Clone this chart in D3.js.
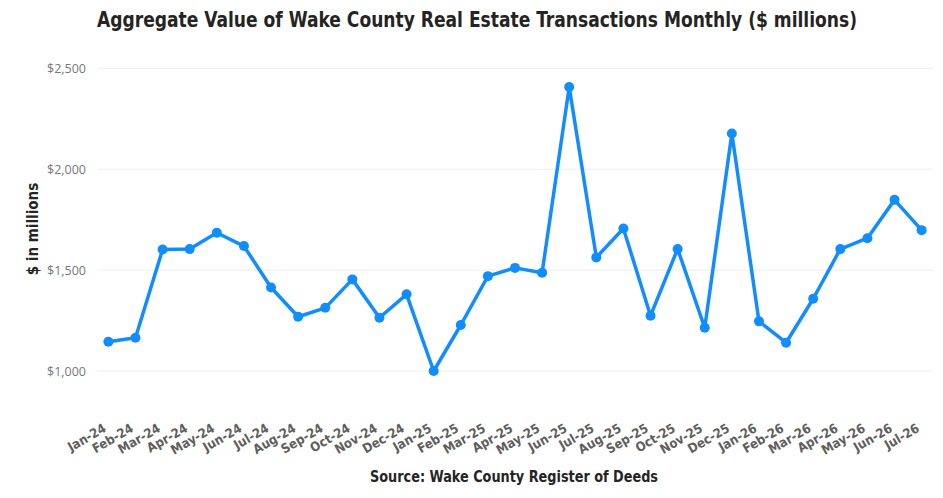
<!DOCTYPE html>
<html>
<head>
<meta charset="utf-8">
<script src="https://cdn.jsdelivr.net/npm/d3@7"></script>
<style>
  body { margin: 0; background: #fff; }
  svg text { font-family: "DejaVu Sans Condensed", "DejaVu Sans", sans-serif; }
</style>
</head>
<body>
<div id="chart"></div>
<script>
const width = 943;
const height = 498;

const months = ["Jan-24", "Feb-24", "Mar-24", "Apr-24", "May-24", "Jun-24", "Jul-24", "Aug-24",
    "Sep-24", "Oct-24", "Nov-24", "Dec-24", "Jan-25", "Feb-25", "Mar-25", "Apr-25", "May-25",
    "Jun-25", "Jul-25", "Aug-25", "Sep-25", "Oct-25", "Nov-25", "Dec-25", "Jan-26", "Feb-26",
    "Mar-26", "Apr-26", "May-26", "Jun-26", "Jul-26"];
const values = [1145, 1165, 1602, 1604, 1685, 1619, 1414, 1269,
    1313, 1454, 1264, 1380, 1000, 1228, 1470, 1511, 1487,
    2407, 1563, 1706, 1274, 1605, 1214, 2177, 1246, 1140,
    1358, 1604, 1658, 1848, 1698];
const yTicks = [1000, 1500, 2000, 2500];

const lineColor = "#118DFF";

const svg = d3.select("#chart")
    .append("svg")
    .attr("width", width)
    .attr("height", height);

const x = d3.scalePoint()
    .domain(months)
    .range([97, 933])
    .padding(0.42);

const y = d3.scaleLinear()
    .domain([1000, 2500])
    .range([371, 68.3]);

// gridlines
svg.append("g")
    .selectAll("line")
    .data(yTicks)
    .join("line")
    .attr("x1", 97)
    .attr("x2", 933)
    .attr("y1", d => y(d))
    .attr("y2", d => y(d))
    .attr("stroke", "#EDEDED")
    .attr("stroke-width", 1);

// y axis labels
const yAxis = svg.append("g")
    .attr("transform", "translate(86,0)")
    .call(d3.axisLeft(y).tickValues(yTicks).tickSize(0).tickFormat(d => "$" + d3.format(",")(d)));
yAxis.select(".domain").remove();
yAxis.selectAll("text")
    .attr("x", 0)
    .attr("fill", "#777777")
    .style("font-family", "'Open Sans', sans-serif")
    .style("font-size", "12.5px");

// x axis labels
const xAxis = svg.append("g")
    .attr("transform", "translate(0,420)")
    .call(d3.axisBottom(x).tickSize(0));
xAxis.select(".domain").remove();
xAxis.selectAll("text")
    .attr("fill", "#605E5C")
    .style("font-size", "13px")
    .style("font-weight", "bold")
    .attr("text-anchor", "end")
    .attr("dy", "0.35em")
    .attr("y", 0)
    .attr("transform", "translate(-4,7) rotate(-30)");

// line
const line = d3.line()
    .x((d, i) => x(months[i]))
    .y(d => y(d));

svg.append("path")
    .datum(values)
    .attr("fill", "none")
    .attr("stroke", lineColor)
    .attr("stroke-width", 3.5)
    .attr("stroke-linejoin", "round")
    .attr("d", line);

svg.append("g")
    .selectAll("circle")
    .data(values)
    .join("circle")
    .attr("cx", (d, i) => x(months[i]))
    .attr("cy", d => y(d))
    .attr("r", 5)
    .attr("fill", lineColor);

// title
svg.append("text")
    .attr("x", 97)
    .attr("y", 27)
    .attr("textLength", 760)
    .attr("lengthAdjust", "spacingAndGlyphs")
    .attr("fill", "#252423")
    .style("font-size", "21px")
    .style("font-weight", "bold")
    .text("Aggregate Value of Wake County Real Estate Transactions Monthly ($ millions)");

// y axis title
svg.append("text")
    .attr("transform", "translate(38,229) rotate(-90)")
    .attr("text-anchor", "middle")
    .attr("fill", "#252423")
    .style("font-size", "15px")
    .style("font-weight", "bold")
    .text("$ in millions");

// source
svg.append("text")
    .attr("x", 370)
    .attr("y", 482)
    .attr("textLength", 288)
    .attr("lengthAdjust", "spacingAndGlyphs")
    .attr("fill", "#252423")
    .style("font-size", "16px")
    .style("font-weight", "bold")
    .text("Source: Wake County Register of Deeds");
</script>
</body>
</html>
